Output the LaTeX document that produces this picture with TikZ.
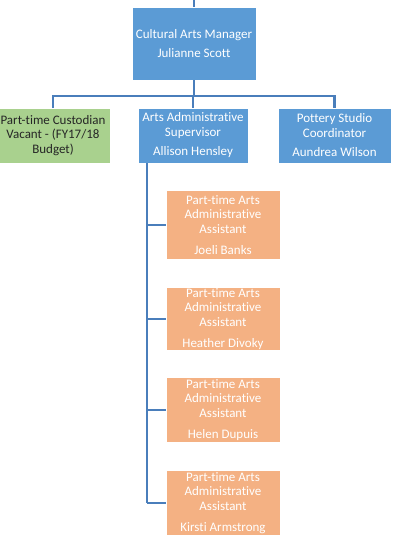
\documentclass[tikz,border=0pt]{standalone}
\usepackage{fontspec}
\setmainfont{Carlito}[Ligatures={NoCommon}]
\definecolor{boxblue}{RGB}{91,155,213}
\definecolor{boxgreen}{RGB}{169,209,142}
\definecolor{boxorange}{RGB}{244,177,131}
\definecolor{linkblue}{RGB}{74,126,187}
\begin{document}
\begin{tikzpicture}[x=1pt,y=-1pt,
  every node/.style={inner sep=0pt, outer sep=0pt, align=center,
    font=\fontsize{13}{14.5}\selectfont},
  orgbox/.style={rectangle, minimum height=55pt},
  bluebox/.style={orgbox, fill=boxblue, draw=white, line width=0.6pt, text=white},
  greenbox/.style={orgbox, fill=boxgreen, draw=white, line width=0.6pt, text=black!85},
  asstbox/.style={rectangle, fill=boxorange, draw=white, line width=0.6pt, text=white,
    minimum width=114pt},
  link/.style={draw=linkblue, line width=2.6pt}]
\useasboundingbox (0,0) rectangle (393,549);
\fill[white] (0,0) rectangle (393,549);

% top level
\node[bluebox, minimum width=124pt, minimum height=73pt] (mgr) at (194,43.5)
  {Cultural Arts Manager\\[4.5pt]Julianne Scott};

% second level
\node[greenbox, minimum width=114pt] (cust) at (53,135.5)
  {Part-time Custodian\\Vacant - (FY17/18\\Budget)};
\node[bluebox, minimum width=110pt] (sup) at (193,135.5)
  {Arts Administrative\\Supervisor\\[5pt]Allison Hensley};
\node[bluebox, minimum width=113pt] (pot) at (334.5,135.5)
  {Pottery Studio\\Coordinator\\[5pt]Aundrea Wilson};

% assistants
\node[asstbox, minimum height=69pt] (a1) at (223,225)
  {Part-time Arts\\Administrative\\Assistant\\[6.5pt]Joeli Banks};
\node[asstbox, minimum height=63pt] (a2) at (223,319)
  {Part-time Arts\\Administrative\\Assistant\\[6.5pt]Heather Divoky};
\node[asstbox, minimum height=65pt] (a3) at (223,410)
  {Part-time Arts\\Administrative\\Assistant\\[6.5pt]Helen Dupuis};
\node[asstbox, minimum height=65pt] (a4) at (223,503)
  {Part-time Arts\\Administrative\\Assistant\\[6.5pt]Kirsti Armstrong};

% connectors
\coordinate (top) at (194,0);
\coordinate (bus) at (194,96);
\coordinate (spine) at (147,163);
\draw[link] (top) -- (mgr.north);
\draw[link] (mgr.south) -- (bus);
\draw[link] (cust.north) |- (bus) -| (pot.north);
\draw[link] (bus) -- (bus -| sup.north) -- (sup.north);
\draw[link] (spine) -- (spine |- a4.west);
\foreach \a in {a1,a2,a3,a4}
  \draw[link] (spine |- \a.west) -- (\a.west);
\end{tikzpicture}
\end{document}
